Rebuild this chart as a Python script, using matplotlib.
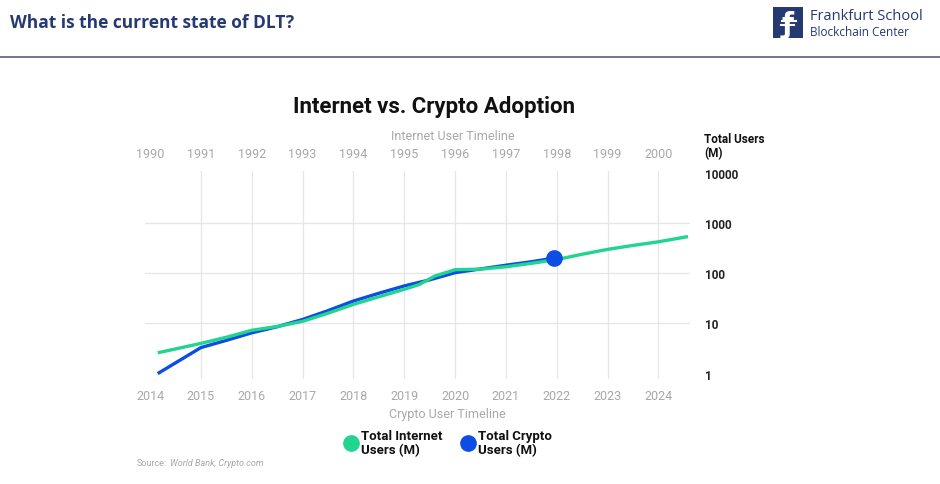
import numpy as np
import matplotlib.pyplot as plt
from matplotlib.lines import Line2D

# internet timeline (1990-2000) is shifted by 24 years onto the crypto timeline (2014-2024)
YEAR_SHIFT = 24

internet_years = [1990.15, 1990.5, 1991.0, 1991.5, 1992.0, 1992.5, 1993.0, 1993.5, 1994.0,
                  1994.5, 1995.0, 1995.3, 1995.6, 1996.0, 1996.5, 1997.0, 1997.5, 1998.0,
                  1998.5, 1999.0, 1999.5, 2000.0, 2000.58]
internet_users = [2.6, 3.1, 4.0, 5.3, 7.3, 8.7, 11, 16, 24, 34, 48, 60, 88, 118, 121, 135,
                  158, 188, 240, 300, 360, 425, 540]

crypto_years = [2014.15, 2015.0, 2015.5, 2016.0, 2016.5, 2017.0, 2017.5, 2018.0, 2018.5,
                2019.0, 2019.5, 2020.0, 2020.5, 2021.0, 2021.5, 2021.94]
crypto_users = [1.0, 3.3, 4.6, 6.5, 8.6, 12, 18, 28, 40, 56, 74, 103, 122, 145, 170, 200]

crypto_ticks = list(range(2014, 2025))
internet_ticks = list(range(1990, 2001))
y_ticks = [1, 10, 100, 1000, 10000]

green = '#21d490'
blue = '#0c4de3'
navy = '#253a72'
grey = '#a8a8a8'
font = ['Roboto', 'DejaVu Sans']

fig = plt.figure(figsize=(9.4, 4.85), dpi=100)

# slide header
fig.text(10 / 940, 1 - 23 / 485, 'What is the current state of DLT?', fontsize=12.5,
         fontweight='bold', color=navy, family=['Open Sans', 'DejaVu Sans'], va='center')
fig.add_artist(Line2D([0, 1], [1 - 58 / 485] * 2, color='#55607f', lw=1.2))

# logo
logo = fig.add_axes([773 / 940, 1 - 39 / 485, 30 / 940, 31 / 485])
logo.set_facecolor(navy)
logo.set_xticks([])
logo.set_yticks([])
for s in logo.spines.values():
    s.set_visible(False)
logo.text(0.5, 0.45, 'ƒ', color='white', fontsize=20, ha='center', va='center',
          fontweight='bold', family='DejaVu Sans')
logo.plot([0.3, 0.75], [0.55, 0.55], color='white', lw=1.5)
logo.plot([0.25, 0.7], [0.42, 0.42], color='white', lw=1.5)
logo.set_xlim(0, 1)
logo.set_ylim(0, 1)
fig.text(810 / 940, 1 - 16 / 485, 'Frankfurt School', fontsize=10.5, color=navy,
         family=['Open Sans', 'DejaVu Sans'], va='center')
fig.text(810 / 940, 1 - 32 / 485, 'Blockchain Center', fontsize=8.5, color=navy,
         family=['Open Sans', 'DejaVu Sans'], va='center')

# main chart
ax = fig.add_axes([145 / 940, 1 - 380 / 485, 545 / 940, 208 / 485])
ax.plot(np.array(internet_years) + YEAR_SHIFT, internet_users, color=green, lw=2.4,
        solid_capstyle='butt', zorder=3)
ax.plot(crypto_years, crypto_users, color=blue, lw=2.4, solid_capstyle='butt', zorder=2)
ax.plot(crypto_years[-1], crypto_users[-1], 'o', color=blue, markersize=11, zorder=4)

ax.set_yscale('log')
ax.set_xlim(2013.9, 2024.62)
ax.set_ylim(0.78, 10 ** 4.04)
ax.set_xticks(crypto_ticks)
ax.set_yticks(y_ticks)
ax.set_yticklabels([str(v) for v in y_ticks])
ax.minorticks_off()
ax.yaxis.tick_right()
ax.tick_params(axis='x', length=0, pad=7, labelsize=9, labelcolor=grey)
ax.tick_params(axis='y', length=0, pad=11, labelsize=8.5, labelcolor='#222222')
for lab in ax.get_xticklabels() + ax.get_yticklabels():
    lab.set_family(font)
for lab in ax.get_yticklabels():
    lab.set_fontweight('semibold')
ax.grid(True, color='#e6e6e6', lw=0.9)
ax.get_xgridlines()[0].set_visible(False)
ax.get_ygridlines()[0].set_visible(False)
ax.get_ygridlines()[-1].set_visible(False)
for s in ax.spines.values():
    s.set_visible(False)

top = ax.secondary_xaxis('top', functions=(lambda x: x - YEAR_SHIFT, lambda x: x + YEAR_SHIFT))
top.set_xticks(internet_ticks)
top.tick_params(length=0, pad=8, labelsize=9, labelcolor=grey)
for lab in top.get_xticklabels():
    lab.set_family(font)
top.spines['top'].set_visible(False)

fig.text(434 / 940, 1 - 107 / 485, 'Internet vs. Crypto Adoption', fontsize=16,
         fontweight='bold', color='#111111', family=font, ha='center', va='center')
fig.text(453 / 940, 1 - 136 / 485, 'Internet User Timeline', fontsize=9, color=grey,
         family=font, ha='center', va='center')
fig.text(447 / 940, 1 - 415 / 485, 'Crypto User Timeline', fontsize=9, color=grey,
         family=font, ha='center', va='center')
fig.text(704 / 940, 1 - 147 / 485, 'Total Users\n(M)', fontsize=8.5, fontweight='bold',
         color='#111111', family=font, ha='left', va='center', linespacing=1.1)

handles = [Line2D([], [], marker='o', linestyle='none', color=green, markersize=11),
           Line2D([], [], marker='o', linestyle='none', color=blue, markersize=11)]
leg = fig.legend(handles, ['Total Internet\nUsers (M)', 'Total Crypto\nUsers (M)'],
                 loc='center', bbox_to_anchor=(448 / 940, 1 - 444 / 485), ncol=2,
                 frameon=False, handletextpad=0.3, columnspacing=1.4, handlelength=1.0,
                 prop={'family': font, 'weight': 'bold', 'size': 9.5})
for t in leg.get_texts():
    t.set_color('#111111')
    t.set_linespacing(1.1)

src = fig.text(137 / 940, 1 - 464 / 485, 'Source:', fontsize=6.5, color=grey,
               family=font, va='center')
plt.annotate('World Bank, Crypto.com', xy=(1, 0.5), xycoords=src, xytext=(2.5, 0),
             textcoords='offset points', fontsize=6.5, color=grey, style='italic',
             family=font, va='center')

fig.savefig('out.png', dpi=100)
